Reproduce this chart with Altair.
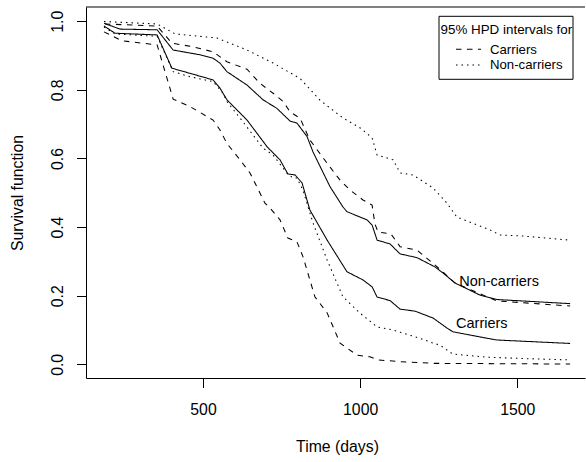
import altair as alt
import pandas as pd

FONT = "Liberation Sans"

# ---- data ----
# Non-carriers, posterior mean survival (solid, upper)
nc_mean_t = [185, 236, 354, 405, 491, 532, 554, 576, 640, 691, 735, 777, 799, 831, 850, 904, 945, 958,
             1022, 1038, 1054, 1095, 1127, 1181, 1238, 1264, 1302, 1381, 1435, 1668]
nc_mean_v = [0.994, 0.977, 0.975, 0.916, 0.902, 0.892, 0.878, 0.853, 0.814, 0.771, 0.746, 0.709, 0.703,
             0.664, 0.619, 0.518, 0.459, 0.445, 0.421, 0.406, 0.362, 0.351, 0.322, 0.311, 0.284, 0.266,
             0.237, 0.202, 0.189, 0.177]

# Carriers, posterior mean survival (solid, lower)
c_mean_t = [185, 220, 354, 401, 459, 532, 554, 576, 640, 704, 745, 770, 793, 815, 840, 895, 958, 1009,
            1038, 1054, 1095, 1127, 1175, 1232, 1276, 1295, 1404, 1435, 1668]
c_mean_v = [0.986, 0.965, 0.960, 0.863, 0.848, 0.829, 0.805, 0.771, 0.712, 0.634, 0.596, 0.555, 0.552,
            0.529, 0.450, 0.362, 0.270, 0.246, 0.226, 0.196, 0.186, 0.161, 0.155, 0.135, 0.106, 0.095,
            0.076, 0.071, 0.061]

# dashed band
dash_up_t = [188, 354, 401, 459, 532, 576, 640, 681, 723, 755, 777, 809, 840, 895, 936, 968, 1009, 1038,
             1047, 1057, 1098, 1127, 1181, 1232, 1264, 1302, 1435, 1668]
dash_up_v = [0.992, 0.986, 0.936, 0.927, 0.911, 0.882, 0.860, 0.819, 0.790, 0.766, 0.736, 0.717, 0.654,
             0.586, 0.537, 0.508, 0.479, 0.464, 0.409, 0.386, 0.380, 0.343, 0.333, 0.294, 0.269, 0.237,
             0.185, 0.170]
dash_lo_t = [185, 242, 354, 405, 459, 532, 554, 576, 618, 650, 697, 713, 745, 770, 799, 818, 856, 895,
             936, 990, 1031, 1057, 1127, 1232, 1668]
dash_lo_v = [0.969, 0.943, 0.931, 0.773, 0.751, 0.712, 0.683, 0.644, 0.596, 0.557, 0.470, 0.456, 0.421,
             0.368, 0.357, 0.314, 0.197, 0.150, 0.062, 0.027, 0.022, 0.013, 0.008, 0.003, 0.001]

# dotted band
dot_up_t = [185, 354, 411, 545, 640, 723, 809, 872, 945, 1000, 1038, 1054, 1105, 1127, 1168, 1232, 1276,
            1308, 1413, 1445, 1518, 1668]
dot_up_v = [0.999, 0.992, 0.963, 0.951, 0.916, 0.878, 0.833, 0.770, 0.718, 0.689, 0.660, 0.610, 0.596,
            0.558, 0.552, 0.514, 0.470, 0.429, 0.392, 0.377, 0.374, 0.362]
dot_lo_t = [185, 220, 354, 405, 459, 532, 564, 576, 627, 691, 723, 767, 786, 799, 818, 850, 895, 945,
            1000, 1054, 1105, 1190, 1232, 1254, 1295, 1404, 1518, 1668]
dot_lo_v = [0.983, 0.963, 0.956, 0.853, 0.838, 0.824, 0.790, 0.766, 0.707, 0.630, 0.610, 0.557, 0.543,
            0.543, 0.508, 0.412, 0.304, 0.197, 0.149, 0.109, 0.100, 0.076, 0.062, 0.056, 0.030, 0.021,
            0.017, 0.013]

curve_labels = ["Non-carriers", "Carriers"]
curve_label_t = [1315, 1305]
curve_label_v = [0.229, 0.105]

x_ticks = [500, 1000, 1500]
y_ticks = [0.0, 0.2, 0.4, 0.6, 0.8, 1.0]

# ---- build table ----
series = [
    ("nc_mean", "solid", nc_mean_t, nc_mean_v),
    ("c_mean", "solid", c_mean_t, c_mean_v),
    ("dash_up", "dashed", dash_up_t, dash_up_v),
    ("dash_lo", "dashed", dash_lo_t, dash_lo_v),
    ("dot_up", "dotted", dot_up_t, dot_up_v),
    ("dot_lo", "dotted", dot_lo_t, dot_lo_v),
]
rows = []
for name, style, ts, vs in series:
    for i, (t, v) in enumerate(zip(ts, vs)):
        rows.append({"series": name, "style": style, "t": t, "v": v, "i": i})
df = pd.DataFrame(rows)

W, H = 499, 371
xscale = alt.Scale(domain=[127.7, 1715.4], nice=False, zero=False)
yscale = alt.Scale(domain=[-0.0397, 1.0414], nice=False, zero=False)

xaxis = alt.Axis(values=x_ticks, format="d", title="Time (days)", grid=False, domainColor="black",
                 tickColor="black", tickSize=9.5, labelFont=FONT, labelFontSize=15.8, labelColor="black",
                 labelPadding=26.8, labelBaseline="alphabetic", labelFlush=False, titleFont=FONT,
                 titleFontSize=15.8, titleFontWeight="normal", titleColor="black", titleX=251, titleY=73.8,
                 titleBaseline="alphabetic", titleAlign="center")
yaxis = alt.Axis(values=y_ticks, format=".1f", title="Survival function", grid=False, domainColor="black",
                 tickColor="black", tickSize=9.5, labelFont=FONT, labelFontSize=15.8, labelColor="black",
                 labelAngle=270, labelAlign="center", labelBaseline="alphabetic", labelPadding=14.5,
                 labelFlush=False, labelOverlap=False, titleFont=FONT, titleFontSize=15.8,
                 titleFontWeight="normal", titleColor="black", titleAngle=270, titleX=-63.5, titleY=185.5,
                 titleAlign="center", titleBaseline="alphabetic")

lines = alt.Chart(df).mark_line(color="black", strokeWidth=1.05).encode(
    x=alt.X("t:Q", scale=xscale, axis=xaxis),
    y=alt.Y("v:Q", scale=yscale, axis=yaxis),
    detail="series:N",
    order="i:Q",
    strokeDash=alt.StrokeDash("style:N", legend=None,
                              scale=alt.Scale(domain=["solid", "dashed", "dotted"],
                                              range=[[1, 0], [5.5, 5.5], [1.5, 4]])),
)

lab_df = pd.DataFrame({"label": curve_labels, "t": curve_label_t, "v": curve_label_v})
labels = alt.Chart(lab_df).mark_text(align="left", baseline="alphabetic", font=FONT, fontSize=14.5,
                                     color="black").encode(
    x=alt.X("t:Q", scale=xscale), y=alt.Y("v:Q", scale=yscale), text="label:N")

one = pd.DataFrame({"a": [0]})
top_line = alt.Chart(one).mark_rule(color="black", strokeWidth=1).encode(
    x=alt.value(0), x2=alt.value(W), y=alt.value(0))

box = alt.Chart(one).mark_rect(fill="white", stroke="black", strokeWidth=1).encode(
    x=alt.value(353), x2=alt.value(487), y=alt.value(9.3), y2=alt.value(72.3))
leg_title = alt.Chart(one).mark_text(text="95% HPD intervals for", align="left", baseline="alphabetic",
                                     font=FONT, fontSize=13.4, color="black").encode(
    x=alt.value(354.5), y=alt.value(26.6))
leg_t1 = alt.Chart(one).mark_text(text="Carriers", align="left", baseline="alphabetic",
                                  font=FONT, fontSize=13.2, color="black").encode(
    x=alt.value(404), y=alt.value(46.6))
leg_t2 = alt.Chart(one).mark_text(text="Non-carriers", align="left", baseline="alphabetic",
                                  font=FONT, fontSize=13.2, color="black").encode(
    x=alt.value(404), y=alt.value(62.3))
leg_l1 = alt.Chart(one).mark_rule(color="black", strokeWidth=1.05, strokeDash=[5.5, 5.5]).encode(
    x=alt.value(370), x2=alt.value(395), y=alt.value(42.3))
leg_l2 = alt.Chart(one).mark_rule(color="black", strokeWidth=1.05, strokeDash=[1.5, 4]).encode(
    x=alt.value(370), x2=alt.value(395), y=alt.value(58))

chart = alt.layer(lines, labels, top_line, box, leg_title, leg_t1, leg_t2, leg_l1, leg_l2).properties(
    width=W, height=H,
    autosize=alt.AutoSizeParams(type="none"),
    padding={"left": 86, "top": 7, "right": 1, "bottom": 84},
    background="white",
).configure_view(stroke=None)

chart.save("out.html", embed_options={"renderer": "svg", "actions": False})
